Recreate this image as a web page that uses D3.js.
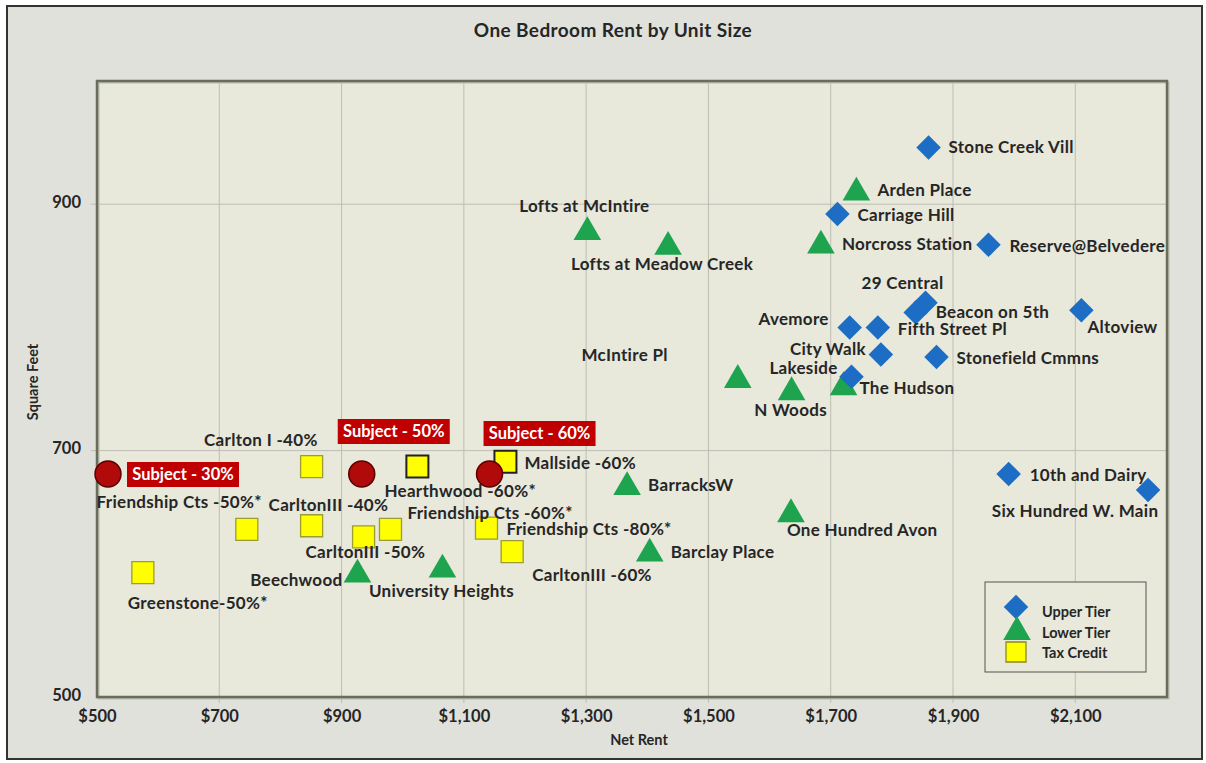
<!DOCTYPE html>
<html>
<head>
<meta charset="utf-8">
<script src="https://cdn.jsdelivr.net/npm/d3@7"></script>
<style>
  body { margin: 0; background: #fff; }
  text { font-family: Lato, "Open Sans", sans-serif; font-weight: bold; fill: #262626; }
</style>
</head>
<body>
<svg width="1206" height="763"></svg>
<script>
// ---- data (net rent, square feet) ----
var upperNames = ["Stone Creek Vill", "Carriage Hill", "Reserve@Belvedere", "29 Central", "Beacon on 5th",
                  "Altoview", "Avemore", "Fifth Street Pl", "City Walk", "Stonefield Cmmns",
                  "The Hudson", "10th and Dairy", "Six Hundred W. Main"];
var upperRent  = [1860, 1711, 1958, 1855, 1839, 2110, 1731, 1777, 1782, 1873, 1734, 1991, 2219];
var upperSqft  = [946, 892, 867, 820, 812, 814, 800, 800, 778, 776, 760, 681, 668];

var lowerNames = ["Arden Place", "Norcross Station", "Lofts at McIntire", "Lofts at Meadow Creek", "McIntire Pl",
                  "N Woods", "Lakeside", "BarracksW", "One Hundred Avon", "Barclay Place",
                  "University Heights", "Beechwood"];
var lowerRent  = [1742, 1684, 1302, 1434, 1548, 1636, 1721, 1367, 1635, 1404, 1065, 926];
var lowerSqft  = [911, 868, 879, 867, 759, 749, 753, 672, 650, 618, 605, 601];

var taxNames = ["Carlton I -40%", "Hearthwood -60%*", "Friendship Cts -50%*", "CarltonIII -40%", "CarltonIII -50%",
                "Friendship Cts -60%*", "Friendship Cts -80%*", "CarltonIII -60%", "Mallside -60%", "Greenstone-50%*"];
var taxRent  = [851, 1024, 745, 851, 936, 980, 1137, 1179, 1168, 575];
var taxSqft  = [687, 687, 636, 639, 630, 636, 637, 618, 691, 601];

var subjectNames = ["Subject - 30%", "Subject - 50%", "Subject - 60%"];
var subjectRent  = [518, 933, 1142];
var subjectSqft  = [681, 681, 681];

var xTicks = [500, 700, 900, 1100, 1300, 1500, 1700, 1900, 2100];
var yTicks = [500, 700, 900];

// label placement (manual, like the original workbook): [dx, dy, anchor]
var labelPos = {
  "Stone Creek Vill": [20, 0, "start"], "Carriage Hill": [20, 1, "start"], "Reserve@Belvedere": [21, 1, "start"],
  "29 Central": [-23, -20, "middle"], "Beacon on 5th": [20, -1, "start"], "Altoview": [6, 17, "start"],
  "Avemore": [-21, -8, "end"], "Fifth Street Pl": [20, 2, "start"], "City Walk": [-15, -5, "end"],
  "Stonefield Cmmns": [20, 1, "start"], "The Hudson": [8, 11, "start"], "10th and Dairy": [21, 1, "start"],
  "Six Hundred W. Main": [-73, 21, "middle"],
  "Arden Place": [21, -1, "start"], "Norcross Station": [21, 0, "start"], "Lofts at McIntire": [-3, -24, "middle"],
  "Lofts at Meadow Creek": [-6, 19, "middle"], "McIntire Pl": [-70, -23, "end"], "N Woods": [-1, 20, "middle"],
  "Lakeside": [-40, -17, "middle"], "BarracksW": [21, 0, "start"], "One Hundred Avon": [-4, 18, "start"],
  "Barclay Place": [21, 0, "start"], "University Heights": [-1, 23, "middle"], "Beechwood": [-15, 7, "end"],
  "Carlton I -40%": [6, -27, "end"], "Hearthwood -60%*": [-33, 24, "start"], "Friendship Cts -50%*": [15, -27, "end"],
  "CarltonIII -40%": [-43, -21, "start"], "CarltonIII -50%": [-58, 15, "start"], "Friendship Cts -60%*": [17, -16, "start"],
  "Friendship Cts -80%*": [20, 1, "start"], "CarltonIII -60%": [20, 23, "start"], "Mallside -60%": [19, 1, "start"],
  "Greenstone-50%*": [-15, 30, "start"],
  "Subject - 30%": [75, 0, "middle"], "Subject - 50%": [32, -43, "middle"], "Subject - 60%": [50, -41, "middle"]
};
var darkOutline = ["Hearthwood -60%*", "Mallside -60%"];

function rows(names, rent, sqft) {
  return names.map(function(n, i) { return {name: n, rent: rent[i], sqft: sqft[i]}; });
}
var upper = rows(upperNames, upperRent, upperSqft),
    lower = rows(lowerNames, lowerRent, lowerSqft),
    tax = rows(taxNames, taxRent, taxSqft),
    subject = rows(subjectNames, subjectRent, subjectSqft);

var svg = d3.select("svg");

// frame
svg.append("rect").attr("x", 7).attr("y", 6).attr("width", 1195).attr("height", 753)
   .attr("fill", "#e1e1dc").attr("stroke", "#333").attr("stroke-width", 2);

var plot = {left: 97, top: 81, right: 1167, bottom: 697};

var x = d3.scaleLinear().domain([500, 2250]).range([plot.left, plot.right]);
var y = d3.scaleLinear().domain([500, 1000]).range([plot.bottom, plot.top]);

svg.append("rect").attr("x", plot.left).attr("y", plot.top)
   .attr("width", plot.right - plot.left).attr("height", plot.bottom - plot.top)
   .attr("fill", "#e8e8db");

// gridlines
var grid = svg.append("g").attr("stroke", "#bdbdb4").attr("stroke-width", 1);
grid.selectAll(".vx").data(xTicks.slice(1)).enter().append("line")
    .attr("x1", d => x(d)).attr("x2", d => x(d)).attr("y1", plot.top).attr("y2", plot.bottom + 6);
grid.selectAll(".hy").data(yTicks.slice(1)).enter().append("line")
    .attr("y1", d => y(d)).attr("y2", d => y(d)).attr("x1", plot.left - 6).attr("x2", plot.right);

// axes via d3 axis, restyled
var xAxis = svg.append("g").attr("transform", "translate(0," + plot.bottom + ")")
    .call(d3.axisBottom(x).tickValues(xTicks).tickSize(0).tickPadding(13).tickFormat(d => "$" + d3.format(",")(d)));
var yAxis = svg.append("g").attr("transform", "translate(" + plot.left + ",0)")
    .call(d3.axisLeft(y).tickValues(yTicks).tickSize(0).tickPadding(16));
[xAxis, yAxis].forEach(function(a) {
  a.select(".domain").remove();
  a.selectAll("text").style("font-family", "Lato, sans-serif").style("font-weight", "bold")
   .style("font-size", "16.5px").attr("fill", "#262626");
});
yAxis.selectAll("text").attr("dy", "0.2em");

// plot border
svg.append("rect").attr("x", plot.left + 1.5).attr("y", plot.top + 1.5)
   .attr("width", plot.right - plot.left).attr("height", plot.bottom - plot.top)
   .attr("fill", "none").attr("stroke", "#b9bcae").attr("stroke-width", 2);
svg.append("rect").attr("x", plot.left).attr("y", plot.top)
   .attr("width", plot.right - plot.left).attr("height", plot.bottom - plot.top)
   .attr("fill", "none").attr("stroke", "#6a6d5b").attr("stroke-width", 2.5);

// titles
svg.append("text").attr("x", 613).attr("y", 37).attr("text-anchor", "middle")
   .style("font-size", "19px").style("letter-spacing", "0.4px").text("One Bedroom Rent by Unit Size");
svg.append("text").attr("x", 639).attr("y", 745).attr("text-anchor", "middle")
   .style("font-size", "14.5px").text("Net Rent");
svg.append("text").attr("transform", "translate(38,382) rotate(-90)").attr("text-anchor", "middle")
   .style("font-size", "14.5px").text("Square Feet");

// markers
var diamond = d3.symbol().type(d3.symbolSquare).size(300)();
var triangle = d3.symbol().type(d3.symbolTriangle).size(330)();
var square = d3.symbol().type(d3.symbolSquare).size(484)();

function drawLabels(data) {
  svg.append("g").selectAll("text").data(data).enter().append("text")
    .attr("x", d => x(d.rent) + labelPos[d.name][0])
    .attr("y", d => y(d.sqft) + labelPos[d.name][1])
    .attr("dy", "0.35em")
    .attr("text-anchor", d => labelPos[d.name][2])
    .style("font-size", "17px")
    .style("letter-spacing", "0.3px")
    .text(d => d.name);
}

svg.append("g").selectAll("path").data(tax).enter().append("path")
   .attr("d", square)
   .attr("transform", d => "translate(" + x(d.rent) + "," + y(d.sqft) + ")")
   .attr("fill", "#ffff00")
   .attr("stroke", d => darkOutline.indexOf(d.name) >= 0 ? "#222" : "#9c9c30")
   .attr("stroke-width", d => darkOutline.indexOf(d.name) >= 0 ? 2 : 1.3);

svg.append("g").selectAll("path").data(lower).enter().append("path")
   .attr("d", triangle)
   .attr("transform", d => "translate(" + x(d.rent) + "," + (y(d.sqft) + 2) + ")")
   .attr("fill", "#1ea44f");

svg.append("g").selectAll("path").data(upper).enter().append("path")
   .attr("d", diamond)
   .attr("transform", d => "translate(" + x(d.rent) + "," + y(d.sqft) + ") rotate(45)")
   .attr("fill", "#1c6dc3");

svg.append("g").selectAll("circle").data(subject).enter().append("circle")
   .attr("cx", d => x(d.rent)).attr("cy", d => y(d.sqft)).attr("r", 13)
   .attr("fill", "#b00a0a").attr("stroke", "#5a0000").attr("stroke-width", 1.5);

drawLabels(upper);
drawLabels(lower);
drawLabels(tax);

// subject labels in red boxes
var subj = svg.append("g").selectAll("g").data(subject).enter().append("g")
   .attr("transform", d => "translate(" + (x(d.rent) + labelPos[d.name][0]) + "," + (y(d.sqft) + labelPos[d.name][1]) + ")");
subj.append("rect").attr("x", -56).attr("y", -12).attr("width", 112).attr("height", 25).attr("fill", "#c00000");
subj.append("text").attr("text-anchor", "middle").attr("dy", "0.35em")
   .style("font-size", "16.5px").style("fill", "#fff").text(d => d.name);

// legend
var legend = svg.append("g").attr("transform", "translate(985,582)");
legend.append("rect").attr("width", 161).attr("height", 90)
   .attr("fill", "#e8e8db").attr("stroke", "#555").attr("stroke-width", 1);
legend.append("path").attr("d", diamond).attr("transform", "translate(31,25) rotate(45)").attr("fill", "#1c6dc3");
legend.append("path").attr("d", triangle).attr("transform", "translate(32,50)").attr("fill", "#1ea44f");
legend.append("path").attr("d", d3.symbol().type(d3.symbolSquare).size(400)())
   .attr("transform", "translate(31,70)").attr("fill", "#ffff00").attr("stroke", "#8a8a20").attr("stroke-width", 1.3);
[["Upper Tier", 30], ["Lower Tier", 51], ["Tax Credit", 71]].forEach(function(e) {
  legend.append("text").attr("x", 57).attr("y", e[1]).attr("dy", "0.35em")
    .style("font-size", "14.5px").text(e[0]);
});
</script>
</body>
</html>
